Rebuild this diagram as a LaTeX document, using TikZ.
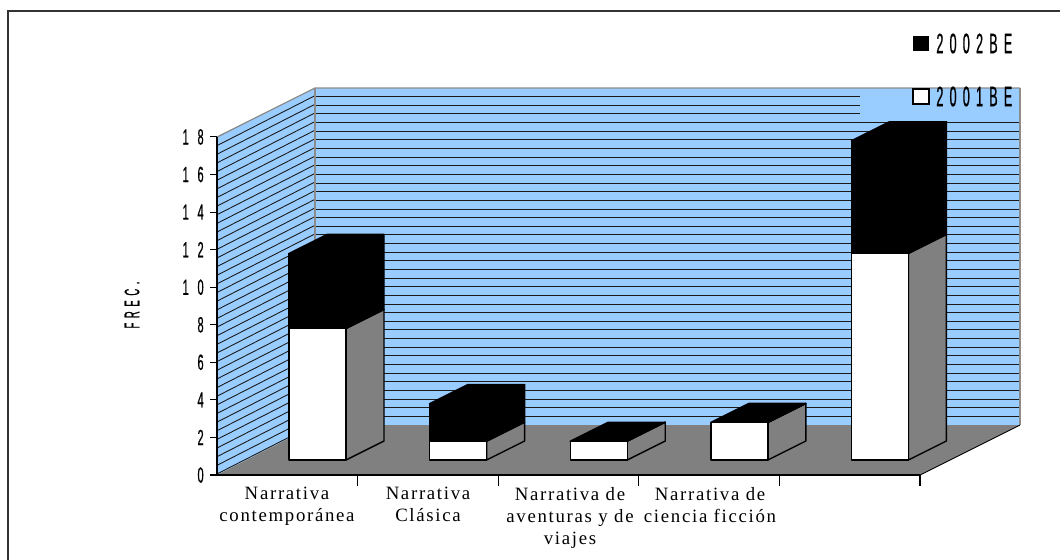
\documentclass[tikz,border=0pt]{standalone}
\usepackage{fontspec}
\setmainfont{Liberation Serif}
\newfontfamily\condfont[FakeStretch=0.5,LetterSpace=40,FakeBold=0.6]{Liberation Sans}
\newfontfamily\legfont[FakeStretch=0.45,LetterSpace=22,FakeBold=0.6]{Liberation Sans}
\newfontfamily\catfont[LetterSpace=9]{Liberation Serif}
\definecolor{wallblue}{HTML}{99CCFF}
\definecolor{floorgray}{HTML}{808080}
\definecolor{edgegray}{HTML}{8C8C8C}
\begin{document}
\begin{tikzpicture}[x=0.02cm,y=-0.02cm,
	    barline/.style={draw=black,line width=0.8pt,line join=round},
	    hatch/.style={black!90,line width=0.5pt},
	    ticklbl/.style={font=\condfont\fontsize{12.5}{14}\selectfont,anchor=east,inner sep=0pt},
	    leglbl/.style={font=\legfont\fontsize{16}{18}\selectfont,anchor=west,inner sep=0pt},
	    catlbl/.style={font=\catfont\fontsize{10.7}{12.5}\selectfont,align=center,anchor=north,inner sep=0pt}]
	    \useasboundingbox (0,0) rectangle (1060,560);
	    % frame
	    \draw[black!80,line width=1.1pt] (1060,11) -- (8,11) -- (8,560);
	    % walls and floor
	    \fill[wallblue] (217,137) -- (315,88) -- (315,425) -- (217,475) -- cycle;
	    \fill[wallblue] (315,88) rectangle (1020,425);
	    \begin{scope}
	    \clip (217,137) -- (315,88) -- (315,425) -- (217,475) -- cycle;
	    \foreach \k in {0,...,44}
	        \draw[hatch] (217,{137+\k*8.64}) -- ++(98,-50);
	    \end{scope}
	    \foreach \k in {1,...,38}
	        \draw[hatch] (315,{88+\k*8.64}) -- (1020,{88+\k*8.64});
	    \fill[wallblue] (860,88) rectangle (1020,122);
	    \draw[edgegray,line width=0.7pt] (217,137) -- (315,88) -- (1020,88);
	    \draw[edgegray,line width=0.7pt] (315,88) -- (315,425);
	    \draw[edgegray,line width=0.7pt] (1020,88) -- (1020,425);
	    \fill[floorgray] (217,475) -- (315,425) -- (1020,425) -- (920,475) -- cycle;
	    \draw[black,line width=0.5pt] (920,475) -- (1020,425);
	    % bars: index / 2001BE / 2002BE
	    \foreach \i/\a/\b in {0/7/4,1/1/2,2/1/0,3/2/0,4/11/6}{
	        \pgfmathsetmacro\xa{289+\i*140.6}
	        \pgfmathsetmacro\xb{\xa+57}
	        \pgfmathsetmacro\ya{460-\a*18.78}
	        \pgfmathsetmacro\yb{460-(\a+\b)*18.78}
	        \filldraw[barline,fill=floorgray] (\xb,460) -- ++(38,-19) -- ({\xb+38},{\ya-19}) -- (\xb,\ya) -- cycle;
	        \filldraw[barline,fill=black] (\xb,\ya) -- ++(38,-19) -- ({\xb+38},{\yb-19}) -- (\xb,\yb) -- cycle;
	        \filldraw[barline,fill=black] (\xa,\yb) -- (\xb,\yb) -- ++(38,-19) -- ({\xa+38},{\yb-19}) -- cycle;
	        \filldraw[barline,fill=white] (\xa,460) rectangle (\xb,\ya);
	        \filldraw[barline,fill=black] (\xa,\ya) rectangle (\xb,\yb);
	    }
	    % axes
	    \draw[black,line width=0.6pt] (217,137) -- (217,475) -- (920,475);
	    \foreach \v in {0,2,...,18}{
	        \draw[black,line width=0.6pt] (210,{475-\v*18.78}) -- (217,{475-\v*18.78});
	        \node[ticklbl] (t\v) at (204,{475-\v*18.78}) {\v};
	    }
	    \foreach \k in {1,...,5}
	        \draw[black,line width=0.6pt] ({217+\k*140.6},475) -- ({217+\k*140.6},486);
	    \node[font=\legfont\fontsize{12}{14}\selectfont,rotate=90] (ylab) at (132,305) {FREC.};
	    % categories
	    \node[catlbl] (c1) at (287,487) {Narrativa\\contemporánea};
	    \node[catlbl] (c2) at (428,487) {Narrativa\\Clásica};
	    \node[catlbl] (c3) at (570,487) {Narrativa de\\aventuras y de\\viajes};
	    \node[catlbl] (c4) at (710,487) {Narrativa de\\ciencia ficción};
	    % legend
	    \fill[black] (913,36) rectangle (929,51);
	    \node[leglbl] (leg2002) at (936,43.5) {2002BE};
	    \filldraw[draw=black,fill=white,line width=0.8pt] (913,89) rectangle (929,104);
	    \node[leglbl] (leg2001) at (936,96.5) {2001BE};
\end{tikzpicture}
\end{document}
